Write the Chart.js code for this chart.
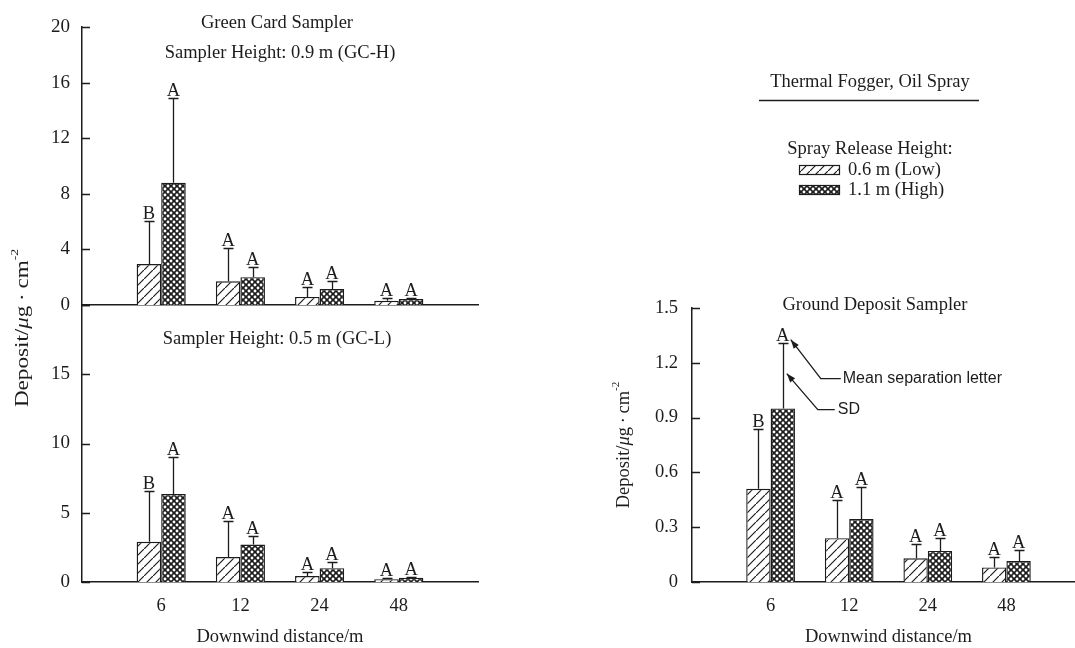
<!DOCTYPE html>
<html>
<head>
<meta charset="utf-8">
<script src="https://cdn.jsdelivr.net/npm/chart.js@4/dist/chart.umd.min.js"></script>
<style>
html, body { margin: 0; padding: 0; width: 1075px; height: 648px; overflow: hidden; background: #fff; }
canvas { position: absolute; left: 0; top: 0; }
</style>
</head>
<body>
<canvas id="gcH" width="1075" height="648"></canvas>
<canvas id="gcL" width="1075" height="648"></canvas>
<canvas id="gd" width="1100" height="648"></canvas>
<script>
// ---------------- data ----------------
const categories = ['6', '12', '24', '48'];
const seriesNames = ['0.6 m (Low)', '1.1 m (High)'];

// Green Card Sampler, sampler height 0.9 m (GC-H)
const gcHLow = [2.95, 1.7, 0.58, 0.3];
const gcHLowSD = [3.1, 2.4, 0.72, 0.2];
const gcHHigh = [8.8, 2.0, 1.15, 0.43];
const gcHHighSD = [6.1, 0.7, 0.58, 0.1];
const gcHLowLetters = ['B', 'A', 'A', 'A'];
const gcHHighLetters = ['A', 'A', 'A', 'A'];

// Green Card Sampler, sampler height 0.5 m (GC-L)
const gcLLow = [2.9, 1.8, 0.43, 0.2];
const gcLLowSD = [3.7, 2.6, 0.3, 0.1];
const gcLHigh = [6.35, 2.7, 1.0, 0.3];
const gcLHighSD = [2.65, 0.6, 0.44, 0.05];
const gcLLowLetters = ['B', 'A', 'A', 'A'];
const gcLHighLetters = ['A', 'A', 'A', 'A'];

// Ground Deposit Sampler
const gdLow = [0.51, 0.24, 0.13, 0.08];
const gdLowSD = [0.33, 0.21, 0.08, 0.055];
const gdHigh = [0.95, 0.345, 0.17, 0.115];
const gdHighSD = [0.36, 0.175, 0.07, 0.06];
const gdLowLetters = ['B', 'A', 'A', 'A'];
const gdHighLetters = ['A', 'A', 'A', 'A'];

// tick values
const gcHTicks = [0, 4, 8, 12, 16, 20];
const gcLTicks = [0, 5, 10, 15, 20];
const gdTicks = [0, 0.3, 0.6, 0.9, 1.2, 1.5];

// ---------------- styling ----------------
const ink = '#1c1c1c';
const SERIF = "'Liberation Serif', 'Times New Roman', serif";
const SANS = "'Liberation Sans', Arial, sans-serif";
Chart.defaults.font.family = SERIF;
Chart.defaults.color = ink;

function makeHatch() {
  const c = document.createElement('canvas');
  const s = 9; c.width = s; c.height = s;
  const g = c.getContext('2d');
  g.fillStyle = '#fff'; g.fillRect(0, 0, s, s);
  g.strokeStyle = ink; g.lineWidth = 1.2;
  g.beginPath();
  g.moveTo(-1, s + 1); g.lineTo(s + 1, -1);
  g.moveTo(-2, 1); g.lineTo(1, -2);
  g.moveTo(s - 1, s + 2); g.lineTo(s + 2, s - 1);
  g.stroke();
  return g.createPattern(c, 'repeat');
}
function makeCross() {
  const c = document.createElement('canvas');
  const s = 6; c.width = s; c.height = s;
  const g = c.getContext('2d');
  g.fillStyle = ink; g.fillRect(0, 0, s, s);
  g.fillStyle = '#fff';
  [[0, 0], [s, 0], [0, s], [s, s], [s / 2, s / 2]].forEach(p => {
    g.beginPath(); g.arc(p[0], p[1], 1.45, 0, Math.PI * 2); g.fill();
  });
  return g.createPattern(c, 'repeat');
}
const hatchPat = makeHatch();
const crossPat = makeCross();

// ---------------- plugins ----------------
const errBars = {
  id: 'errBars',
  afterDatasetsDraw(chart) {
    const ctx = chart.ctx, y = chart.scales.y;
    ctx.save();
    ctx.strokeStyle = ink; ctx.fillStyle = ink; ctx.lineWidth = 1.3;
    ctx.font = '18.5px ' + SERIF; ctx.textAlign = 'center'; ctx.textBaseline = 'alphabetic';
    chart.data.datasets.forEach((ds, d) => {
      const meta = chart.getDatasetMeta(d);
      meta.data.forEach((el, i) => {
        const v = ds.data[i];
        if (v == null) return;
        const top = Math.round(y.getPixelForValue(v + ds.sd[i])) + 0.5;
        const x = Math.round(el.x) + 0.5;
        ctx.beginPath();
        ctx.moveTo(x, el.y); ctx.lineTo(x, top);
        ctx.moveTo(x - 5, top); ctx.lineTo(x + 5, top);
        ctx.stroke();
        ctx.fillText(ds.letters[i], el.x, top - 3);
      });
    });
    ctx.restore();
  }
};
const innerTicks = {
  id: 'innerTicks',
  afterDraw(chart) {
    const s = chart.scales.y, ctx = chart.ctx;
    ctx.save();
    ctx.strokeStyle = ink; ctx.lineWidth = 1.3;
    ctx.beginPath();
    s.ticks.forEach((t, i) => {
      const py = Math.round(s.getPixelForTick(i)) + 0.5;
      ctx.moveTo(s.right, py); ctx.lineTo(s.right + 8, py);
    });
    ctx.stroke();
    ctx.restore();
  }
};

function text(ctx, str, x, y, size, align, family) {
  ctx.font = size + 'px ' + (family || SERIF);
  ctx.textAlign = align || 'center';
  ctx.textBaseline = 'middle';
  ctx.fillStyle = ink;
  ctx.fillText(str, x, y);
}
function yTitle(ctx, cx, cy, stretch) {
  const parts = [
    { t: 'Deposit/', f: '18.5px ' + SERIF, dy: 0 },
    { t: '\u03bc', f: 'italic 18.5px ' + SERIF, dy: 0 },
    { t: 'g\u2009\u00b7\u2009cm', f: '18.5px ' + SERIF, dy: 0 },
    { t: '-2', f: '11px ' + SERIF, dy: -8 }
  ];
  ctx.save();
  let w = 0;
  parts.forEach(p => { ctx.font = p.f; p.w = ctx.measureText(p.t).width; w += p.w; });
  ctx.translate(cx, cy);
  ctx.rotate(-Math.PI / 2);
  ctx.scale(stretch || 1, 1);
  ctx.fillStyle = ink; ctx.textBaseline = 'middle'; ctx.textAlign = 'left';
  let x = -w / 2;
  parts.forEach(p => { ctx.font = p.f; ctx.fillText(p.t, x, p.dy); x += p.w; });
  ctx.restore();
}
function arrowLine(ctx, pts) {
  ctx.beginPath();
  ctx.moveTo(pts[0][0], pts[0][1]);
  for (let i = 1; i < pts.length; i++) ctx.lineTo(pts[i][0], pts[i][1]);
  ctx.stroke();
  const a = pts[pts.length - 2], b = pts[pts.length - 1];
  const ang = Math.atan2(b[1] - a[1], b[0] - a[0]);
  const L = 9, H = 3.2;
  ctx.beginPath();
  ctx.moveTo(b[0], b[1]);
  ctx.lineTo(b[0] - L * Math.cos(ang) + H * Math.sin(ang), b[1] - L * Math.sin(ang) - H * Math.cos(ang));
  ctx.lineTo(b[0] - L * Math.cos(ang) - H * Math.sin(ang), b[1] - L * Math.sin(ang) + H * Math.cos(ang));
  ctx.closePath();
  ctx.fill();
}

// ---------------- chart factory ----------------
function panel(id, o) {
  const wrap = a => [null, ...a, null];
  return new Chart(document.getElementById(id), {
    type: 'bar',
    data: {
      labels: ['', ...categories, ''],
      datasets: [
        { label: seriesNames[0], data: wrap(o.low), sd: wrap(o.lowSD), letters: wrap(o.lowL),
          backgroundColor: hatchPat, borderColor: ink, borderWidth: 1.4 },
        { label: seriesNames[1], data: wrap(o.high), sd: wrap(o.highSD), letters: wrap(o.highL),
          backgroundColor: crossPat, borderColor: ink, borderWidth: 1.4 }
      ]
    },
    options: {
      responsive: false, animation: false, devicePixelRatio: 1,
      layout: { padding: o.padding },
      plugins: { legend: { display: false }, tooltip: { enabled: false } },
      datasets: { bar: { categoryPercentage: 0.62, barPercentage: 1 } },
      scales: {
        x: {
          offset: false,
          grid: { display: false, drawTicks: false },
          border: { display: true, color: ink, width: 1.5 },
          ticks: { display: o.xTicks, padding: 13, autoSkip: false, maxRotation: 0,
                   font: { size: 18.5 }, color: ink },
          title: { display: o.xTicks, text: 'Downwind distance/m', font: { size: 18.5 }, color: ink,
                   padding: { top: 0, bottom: 0 } },
          afterFit: s => { s.height = o.xH; }
        },
        y: {
          min: o.ticks[0], max: o.ticks[o.ticks.length - 1],
          afterBuildTicks: s => { s.ticks = o.ticks.map(v => ({ value: v })); },
          grid: { display: false, drawTicks: false },
          border: { display: true, color: ink, width: 1.5 },
          ticks: { padding: o.yPad, font: { size: o.yFont }, color: ink, callback: o.fmt },
          afterFit: s => { s.width = o.yW; }
        }
      }
    },
    plugins: [errBars, innerTicks, { id: 'notes', afterDraw: o.notes }]
  });
}

// top-left: GC-H
panel('gcH', {
  low: gcHLow, lowSD: gcHLowSD, lowL: gcHLowLetters,
  high: gcHHigh, highSD: gcHHighSD, highL: gcHHighLetters,
  ticks: gcHTicks, fmt: v => String(v), yFont: 19, yPad: 12,
  padding: { left: 0, top: 27, right: 597, bottom: 343 }, xH: 0, yW: 82, xTicks: false,
  notes: chart => {
    const ctx = chart.ctx;
    ctx.save();
    text(ctx, 'Green Card Sampler', 277, 23, 18.5);
    text(ctx, 'Sampler Height: 0.9 m (GC-H)', 280, 53, 18.5);
    yTitle(ctx, 23, 328, 1.25);
    ctx.restore();
  }
});

// bottom-left: GC-L
panel('gcL', {
  low: gcLLow, lowSD: gcLLowSD, lowL: gcLLowLetters,
  high: gcLHigh, highSD: gcLHighSD, highL: gcLHighLetters,
  ticks: gcLTicks, fmt: v => (v === 20 ? '' : String(v)), yFont: 19, yPad: 12,
  padding: { left: 0, top: 305, right: 597, bottom: 0 }, xH: 66, yW: 82, xTicks: true,
  notes: chart => {
    const ctx = chart.ctx;
    ctx.save();
    text(ctx, 'Sampler Height: 0.5 m (GC-L)', 277, 339, 18.5);
    ctx.restore();
  }
});

// right: Ground Deposit Sampler + legend + annotations
panel('gd', {
  low: gdLow, lowSD: gdLowSD, lowL: gdLowLetters,
  high: gdHigh, highSD: gdHighSD, highL: gdHighLetters,
  ticks: gdTicks, fmt: v => (v === 0 ? '0' : v.toFixed(1)), yFont: 18.5, yPad: 14,
  padding: { left: 0, top: 308, right: 15, bottom: 0 }, xH: 66, yW: 692, xTicks: true,
  notes: chart => {
    const ctx = chart.ctx, y = chart.scales.y;
    ctx.save();
    text(ctx, 'Ground Deposit Sampler', 875, 305, 18.5);
    yTitle(ctx, 624, 445, 1);

    // legend block
    text(ctx, 'Thermal Fogger, Oil Spray', 870, 82, 18.5);
    ctx.strokeStyle = ink; ctx.lineWidth = 1.5;
    ctx.beginPath(); ctx.moveTo(759, 100.5); ctx.lineTo(979, 100.5); ctx.stroke();
    text(ctx, 'Spray Release Height:', 870, 149, 18.5);
    [hatchPat, crossPat].forEach((pat, k) => {
      const cy = 170 + k * 20;
      ctx.fillStyle = pat; ctx.fillRect(799, cy - 4.5, 40, 9);
      ctx.strokeStyle = ink; ctx.lineWidth = 1.2; ctx.strokeRect(799.5, cy - 4.5, 40, 9);
      text(ctx, seriesNames[k], 848, cy, 18.5, 'left');
    });

    // annotations pointing at the 6 m high bar
    const el = chart.getDatasetMeta(1).data[1];
    const capY = y.getPixelForValue(gdHigh[0] + gdHighSD[0]);
    const sdY = y.getPixelForValue(gdHigh[0] + gdHighSD[0] * 0.53);
    ctx.strokeStyle = ink; ctx.fillStyle = ink; ctx.lineWidth = 1.3;
    const t1 = [el.x + 8, capY - 3];
    const e1 = [t1[0] + 30, t1[1] + 39];
    arrowLine(ctx, [[e1[0] + 20, e1[1]], e1, t1]);
    text(ctx, 'Mean separation letter', e1[0] + 22, e1[1], 16, 'left', SANS);
    const t2 = [el.x + 4, sdY];
    const e2 = [t2[0] + 31, t2[1] + 36];
    arrowLine(ctx, [[e2[0] + 17, e2[1]], e2, t2]);
    text(ctx, 'SD', e2[0] + 20, e2[1], 16, 'left', SANS);
    ctx.restore();
  }
});
</script>
</body>
</html>
